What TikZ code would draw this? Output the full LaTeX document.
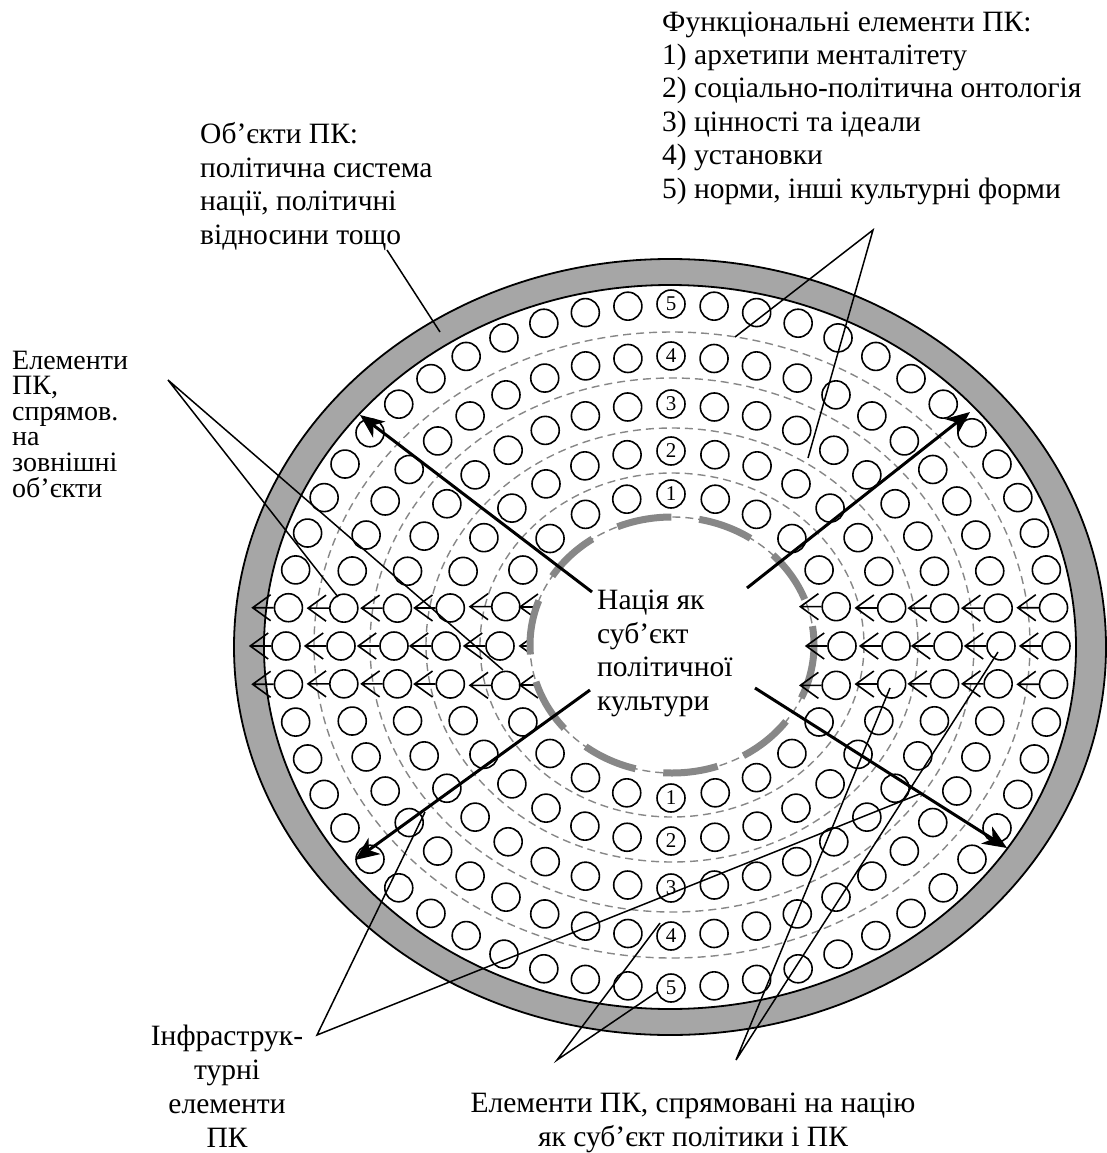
\documentclass[tikz,border=0pt]{standalone}
\usepackage{fontspec}
\setmainfont{Liberation Serif}
\usetikzlibrary{arrows.meta}
\definecolor{bandgray}{gray}{0.65}
\definecolor{ringgray}{gray}{0.53}
\begin{document}
\begin{tikzpicture}[x=1pt,y=-1pt,
  bub/.style={circle,draw,line width=1.6pt,minimum size=28pt,inner sep=0pt,
              font=\fontsize{21}{21}\selectfont},
  ringline/.style={draw=ringgray,line width=1.4pt,dash pattern=on 8pt off 5pt},
  coreline/.style={draw=ringgray,line width=7pt,dash pattern=on 55pt off 28pt},
  pointer/.style={line width=1.5pt},
  bigarrow/.style={line width=3pt,-{Stealth[length=24pt,width=20pt,inset=7pt]}},
  lbl/.style={font=\fontsize{29.5}{33.4}\selectfont,inner sep=0pt,align=left},
  lefttip/.pic={\draw[line width=1.6pt] (0,0) -- (-21,0) (-3,-13) -- (-21,0) -- (-3,13);}
]
\useasboundingbox (0,0) rectangle (1107,1153);

% outer grey band
\fill[bandgray,even odd rule] (670,647) ellipse [x radius=436,y radius=388]
                              (670,647) ellipse [x radius=406,y radius=362];
\draw[line width=1.8pt] (670,647) ellipse [x radius=436,y radius=388];
\draw[line width=1.8pt] (670,647) ellipse [x radius=406,y radius=362];

% arrow tips of the innermost (covered) row
\foreach \yy in {607,646,685} \pic at (541,\yy) {lefttip};

% nucleus
\fill[white] (672,645) ellipse [x radius=142,y radius=128];

% thin dashed ring borders
\foreach \ra/\rb in {142/128,192/172,246/217,302/267,358/313}
  \draw[ringline] (672,645) ellipse [x radius=\ra,y radius=\rb];

% thick dashed border of the nucleus
\draw[coreline] (672,645) ellipse [x radius=142,y radius=128];

% rings of elements
\foreach \cnt/\ra/\rb/\ri in {24/171/152/1,32/225/195/2,40/277/242/3,48/330/290/4,56/385/342/5}{
  \pgfmathtruncatemacro\half{\cnt/2}
  \pgfmathtruncatemacro\quart{\cnt/4}
  \pgfmathsetmacro\stp{360/\cnt}
  \foreach \kk in {1,...,\cnt}{
    \pgfmathsetmacro\ang{\kk*\stp}
    \pgfmathtruncatemacro\islab{(\kk==\quart)||(\kk==3*\quart)}
    \pgfmathtruncatemacro\md{mod(\kk,\half)}
    \node[bub] (c\ri-\kk) at ({671+\ra*cos(\ang)},{646-\rb*sin(\ang)})
      {\ifnum\islab=1 \ri\fi};
    \pgfmathtruncatemacro\isarr{(\md==0)||(\md==1)||(\md==\half-1)}
    \ifnum\isarr=1 \pic at (c\ri-\kk.west) {lefttip}; \fi
  }
}

% texts (anchored at the baseline of their last line)
\node[lbl,anchor=base west] (func) at (662,198)
  {Функціональні елементи ПК:\\1) архетипи менталітету\\2) соціально-політична онтологія\\3) цінності та ідеали\\4) установки\\5) норми, інші культурні форми};
\node[lbl,anchor=base west] (objs) at (200,244)
  {Об’єкти ПК:\\політична система\\нації, політичні\\відносини тощо};
\node[lbl,font=\fontsize{28}{25.6}\selectfont,anchor=base west] (extern) at (12,497)
  {Елементи\\ПК,\\спрямов.\\на\\зовнішні\\об’єкти};
\node[lbl,anchor=base west] (nation) at (597,710)
  {Нація як\\суб’єкт\\політичної\\культури};
\node[lbl,align=center,font=\fontsize{29.5}{33.7}\selectfont,anchor=base] (infra) at (227,1147)
  {Інфраструк-\\турні\\елементи\\ПК};
\node[lbl,align=center,anchor=base] (toward) at (693,1146)
  {Елементи ПК, спрямовані на націю\\як суб’єкт політики і ПК};

% pointer lines
\coordinate (objA) at (387,250);   \coordinate (objB) at (440,332);
\coordinate (funA) at (873,230);   \coordinate (funB) at (735,337);  \coordinate (funC) at (808,458);
\coordinate (extA) at (168,380);   \coordinate (extB) at (338,597);  \coordinate (extC) at (503,670);
\coordinate (infA) at (317,1035);  \coordinate (infB) at (425,812);  \coordinate (infC) at (922,793);
\coordinate (towA) at (557,1060);  \coordinate (towB) at (660,923);  \coordinate (towC) at (657,992);
\coordinate (towD) at (736,1060);  \coordinate (towE) at (890,688);  \coordinate (towF) at (998,652);
\draw[pointer] (objA) -- (objB);
\draw[pointer] (funB) -- (funA) -- (funC);
\draw[pointer] (extB) -- (extA) -- (extC);
\draw[pointer] (infB) -- (infA) -- (infC);
\draw[pointer] (towB) -- (towA) -- (towC);
\draw[pointer] (towE) -- (towD) -- (towF);

% outward arrows from the nation
\coordinate (ulS) at (592,592); \coordinate (ulE) at (360,415);
\coordinate (urS) at (747,588); \coordinate (urE) at (970,412);
\coordinate (llS) at (590,690); \coordinate (llE) at (355,860);
\coordinate (lrS) at (755,688); \coordinate (lrE) at (1007,848);
\draw[bigarrow] (ulS) -- (ulE);
\draw[bigarrow] (urS) -- (urE);
\draw[bigarrow] (llS) -- (llE);
\draw[bigarrow] (lrS) -- (lrE);
\end{tikzpicture}
\end{document}
